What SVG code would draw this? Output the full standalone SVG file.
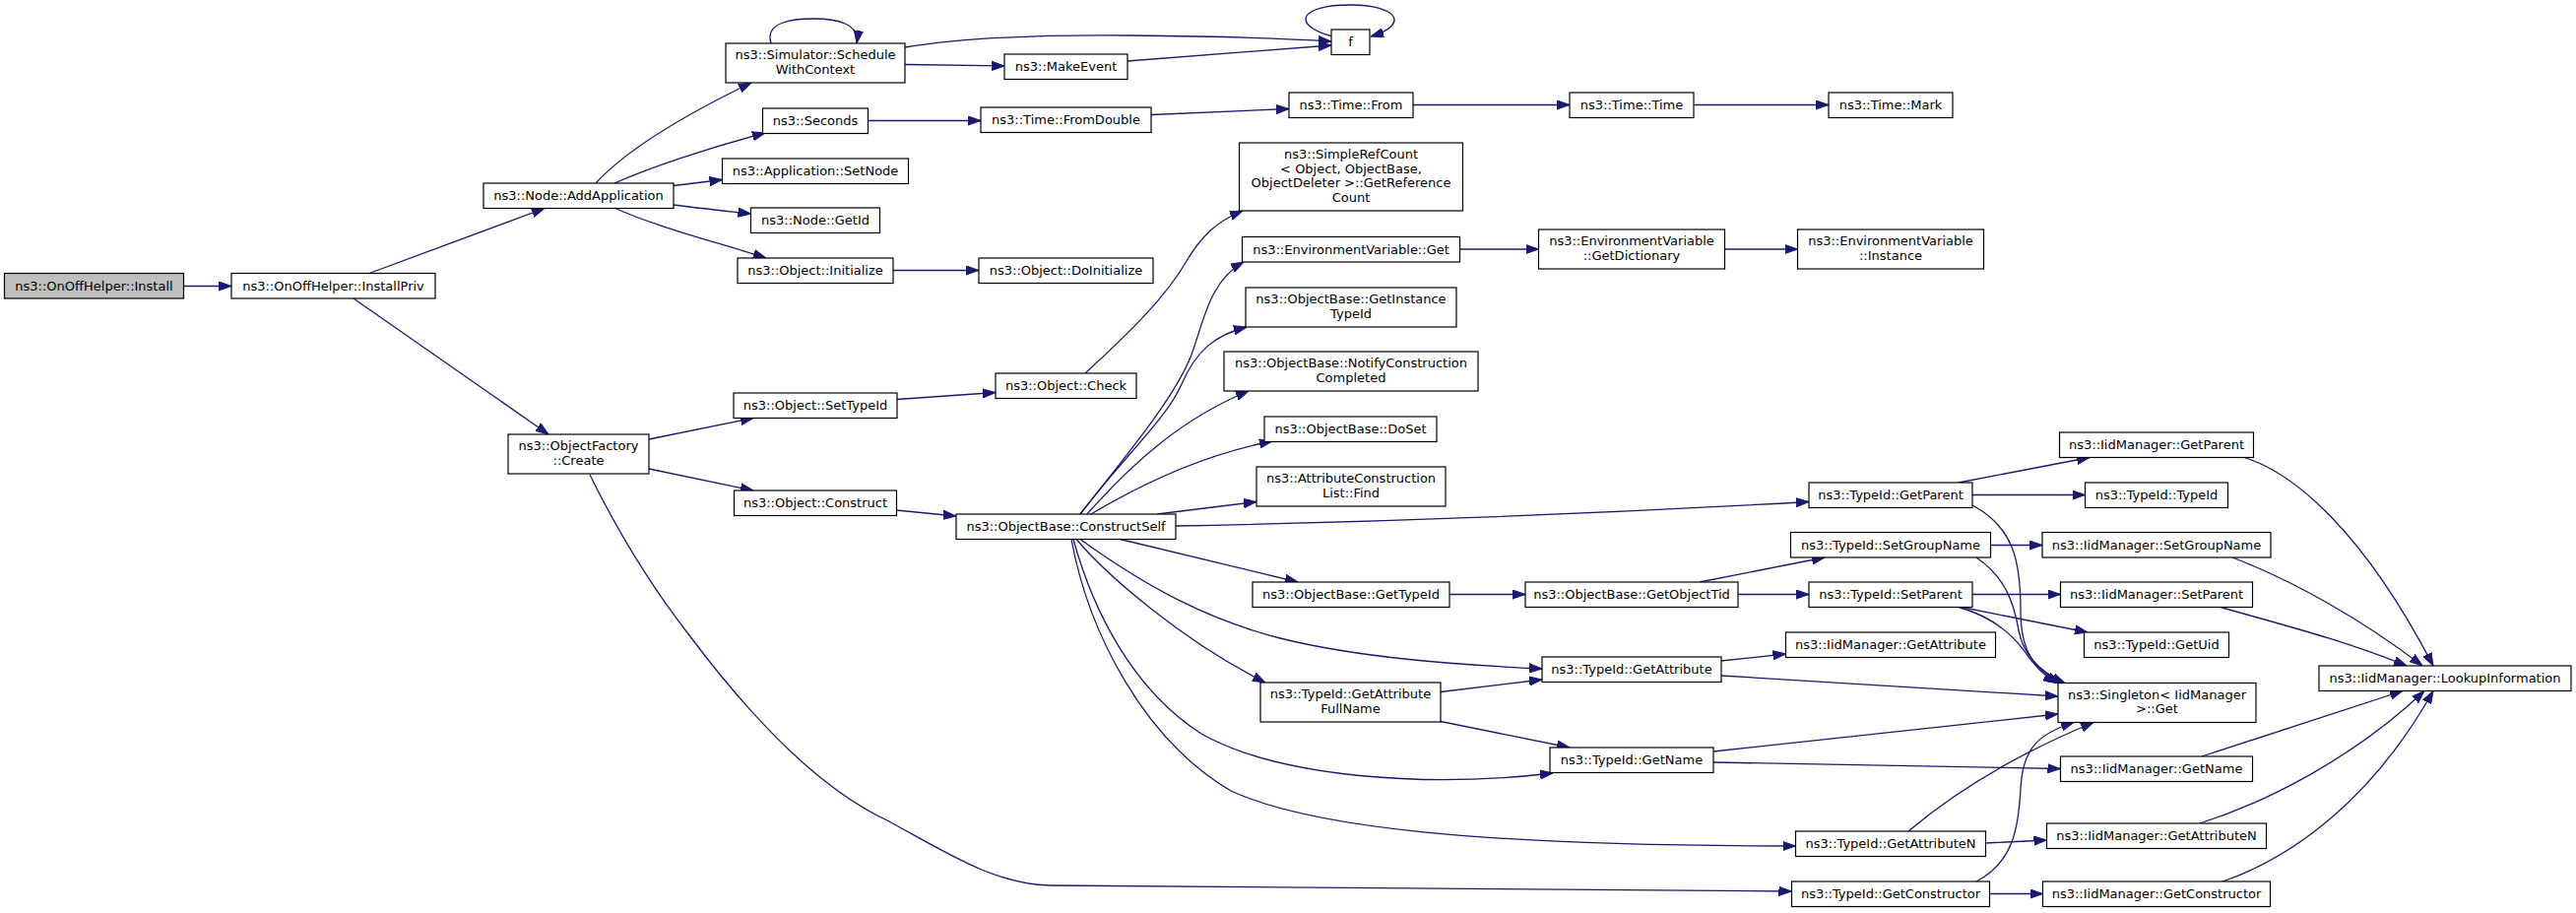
<svg xmlns="http://www.w3.org/2000/svg" width="2616" height="927" viewBox="0 0 2616 927">
<style>
.n rect{fill:#ffffff;stroke:#000000;stroke-width:1.2}
.n.root rect{fill:#bfbfbf}
.n text{font-family:"DejaVu Sans","Noto Sans",sans-serif;font-size:13px;text-anchor:middle;fill:#000000}
#edges path{fill:none;stroke:#191970;stroke-width:1.3;marker-end:url(#arr)}
</style>
<defs>
<marker id="arr" viewBox="0 0 13 10" markerWidth="13" markerHeight="10" refX="13" refY="5" orient="auto" markerUnits="userSpaceOnUse">
<path d="M0,0.4 L13,5 L0,9.6 Z" fill="#191970" stroke="#191970" stroke-width="1"/>
</marker>
</defs>
<rect width="2616" height="927" fill="#ffffff"/>
<g id="edges">
<path d="M186.5,290.5 L235,290.5"/>
<path d="M375,277.5 L553,211.5"/>
<path d="M359,303 L557,441"/>
<path d="M605,186 C640,148 705,112 763,84"/>
<path d="M624,186 C660,170 720,150 777,135"/>
<path d="M684,188.5 L733.5,182.5"/>
<path d="M684,208 C705,211 735,214 762.5,217"/>
<path d="M624,211 C665,230 725,245 778,262"/>
<path d="M783,44 C776,22 806,19 826,19 C850,19 873,24 870,44"/>
<path d="M919,48 C980,38 1060,35 1150,36 C1250,37 1320,40 1352,42"/>
<path d="M919,65.5 L1020,67"/>
<path d="M1145,62 L1352,46"/>
<path d="M1353,37 C1310,25 1320,5 1371,5 C1420,5 1432,25 1392,37"/>
<path d="M881.5,122.5 L996,122.5"/>
<path d="M1169,116.5 L1309,110.5"/>
<path d="M1435,106.5 L1594,106.5"/>
<path d="M1720,106.5 L1857,106.5"/>
<path d="M907,274.5 L994,274.5"/>
<path d="M659,446 L765,424.5"/>
<path d="M659,476 L765,498"/>
<path d="M599,482 C630,545 665,600 700,645 C760,725 830,800 901,833 C960,865 1010,898 1066,899 L1819.5,905"/>
<path d="M911,405.5 L1011,398.5"/>
<path d="M1102,379 C1150,335 1185,300 1205,265 C1220,240 1235,225 1262,214"/>
<path d="M910,518 L971,524"/>
<path d="M1097,522 C1150,455 1195,400 1210,360 C1222,328 1228,285 1263,266"/>
<path d="M1097,522 C1140,465 1185,425 1200,390 C1215,355 1235,340 1266,332"/>
<path d="M1104,522 C1150,470 1200,425 1268,397"/>
<path d="M1108,522 C1170,485 1230,460 1292,448"/>
<path d="M1175,522 L1276,509.5"/>
<path d="M1194,534 C1400,530 1650,520 1837,509.5"/>
<path d="M1137.5,547.5 L1318,591"/>
<path d="M1097,547.5 C1170,600 1230,630 1300,648 C1380,668 1480,675 1566,679"/>
<path d="M1093,547.5 C1125,585 1200,650 1285,693"/>
<path d="M1090,547.5 C1110,620 1150,700 1220,745 C1300,790 1450,800 1577,785"/>
<path d="M1088,547.5 C1105,640 1160,750 1250,803 C1330,840 1500,859 1823.5,859"/>
<path d="M1472,603.5 L1549,603.5"/>
<path d="M1726,591 L1853,566"/>
<path d="M1765,603.5 L1837,603.5"/>
<path d="M1989,490 L2122,464.5"/>
<path d="M2003,502.5 L2117.5,502.5"/>
<path d="M2021.5,553.5 L2074,553.5"/>
<path d="M2003,603.5 L2092.5,603.5"/>
<path d="M1992,616.5 L2120,642"/>
<path d="M2003,513 C2045,535 2052,570 2052,620 C2052,660 2065,680 2092,693.5"/>
<path d="M2007,566 C2035,585 2045,610 2050,640 C2055,665 2070,682 2097,693.5"/>
<path d="M1989,616.5 C2020,625 2040,640 2055,660 C2065,675 2075,686 2088,693.5"/>
<path d="M1748,686 L2090,707"/>
<path d="M1740,763 L2090,725"/>
<path d="M1740,774 L2092.5,780.5"/>
<path d="M1938,844 C1990,800 2050,765 2126,733.5"/>
<path d="M2007,895 C2045,875 2050,840 2052,800 C2054,760 2070,745 2106,733.5"/>
<path d="M2016.5,856 L2078.5,853"/>
<path d="M2020.5,907.5 L2074.5,907.5"/>
<path d="M1748,671 L1813.5,664"/>
<path d="M1463,702.5 L1566,690"/>
<path d="M1463,732.5 L1594,759"/>
<path d="M1482.5,253 L1562.5,253"/>
<path d="M1751.5,253 L1825.5,253"/>
<path d="M2279,464.5 C2330,480 2400,540 2471,676"/>
<path d="M2267,566 C2330,590 2400,630 2460,676"/>
<path d="M2255,616.5 C2320,635 2380,650 2444,676"/>
<path d="M2236,768 L2440,701.5"/>
<path d="M2234,836 C2300,815 2390,770 2462,701.5"/>
<path d="M2257,895 C2330,870 2410,810 2471,701.5"/>
</g>
<g id="install" class="n root"><rect x="4.5" y="277.5" width="182" height="25.5"/><text x="95.5" y="294.5">ns3::OnOffHelper::Install</text></g>
<g id="installpriv" class="n"><rect x="235" y="277.5" width="207" height="25.5"/><text x="338.5" y="294.5">ns3::OnOffHelper::InstallPriv</text></g>
<g id="addapplication" class="n"><rect x="491" y="186" width="193" height="25.5"/><text x="587.5" y="203">ns3::Node::AddApplication</text></g>
<g id="objectfactory_create" class="n"><rect x="516" y="441" width="143" height="40"/><text x="587.5" y="457">ns3::ObjectFactory</text><text x="587.5" y="471.7">::Create</text></g>
<g id="schedulewithcontext" class="n"><rect x="737" y="44" width="182" height="40"/><text x="828" y="60">ns3::Simulator::Schedule</text><text x="828" y="74.7">WithContext</text></g>
<g id="seconds" class="n"><rect x="774.5" y="110" width="107" height="25.5"/><text x="828" y="127">ns3::Seconds</text></g>
<g id="setnode" class="n"><rect x="733.5" y="161" width="189" height="25.5"/><text x="828" y="178">ns3::Application::SetNode</text></g>
<g id="getid" class="n"><rect x="762.5" y="211" width="131" height="25.5"/><text x="828" y="228">ns3::Node::GetId</text></g>
<g id="initialize" class="n"><rect x="749" y="262" width="158" height="25.5"/><text x="828" y="279">ns3::Object::Initialize</text></g>
<g id="settypeid" class="n"><rect x="745" y="399" width="166" height="25.5"/><text x="828" y="416">ns3::Object::SetTypeId</text></g>
<g id="construct" class="n"><rect x="745.5" y="498" width="165" height="25.5"/><text x="828" y="515">ns3::Object::Construct</text></g>
<g id="makeevent" class="n"><rect x="1020" y="55" width="125" height="25.5"/><text x="1082.5" y="72">ns3::MakeEvent</text></g>
<g id="fromdouble" class="n"><rect x="996" y="109" width="173" height="25.5"/><text x="1082.5" y="126">ns3::Time::FromDouble</text></g>
<g id="doinitialize" class="n"><rect x="994" y="262" width="177" height="25.5"/><text x="1082.5" y="279">ns3::Object::DoInitialize</text></g>
<g id="check" class="n"><rect x="1011" y="379" width="143" height="25.5"/><text x="1082.5" y="396">ns3::Object::Check</text></g>
<g id="constructself" class="n"><rect x="971" y="522" width="223" height="25.5"/><text x="1082.5" y="539">ns3::ObjectBase::ConstructSelf</text></g>
<g id="f" class="n"><rect x="1352" y="30" width="39" height="25.5"/><text x="1371.5" y="47">f</text></g>
<g id="time_from" class="n"><rect x="1309" y="94" width="126" height="25.5"/><text x="1372" y="111">ns3::Time::From</text></g>
<g id="simplerefcount" class="n"><rect x="1258.5" y="145" width="227" height="69"/><text x="1372" y="161">ns3::SimpleRefCount</text><text x="1372" y="175.7">&lt; Object, ObjectBase,</text><text x="1372" y="190.4">ObjectDeleter &gt;::GetReference</text><text x="1372" y="205">Count</text></g>
<g id="envvar_get" class="n"><rect x="1261.5" y="240.5" width="221" height="25.5"/><text x="1372" y="257.5">ns3::EnvironmentVariable::Get</text></g>
<g id="getinstancetypeid" class="n"><rect x="1265" y="292" width="214" height="40"/><text x="1372" y="308">ns3::ObjectBase::GetInstance</text><text x="1372" y="322.7">TypeId</text></g>
<g id="notifyconstruction" class="n"><rect x="1243" y="357" width="258" height="40"/><text x="1372" y="373">ns3::ObjectBase::NotifyConstruction</text><text x="1372" y="387.7">Completed</text></g>
<g id="doset" class="n"><rect x="1284" y="423" width="175" height="25.5"/><text x="1371.5" y="440">ns3::ObjectBase::DoSet</text></g>
<g id="attrlist_find" class="n"><rect x="1276" y="474" width="192" height="40"/><text x="1372" y="490">ns3::AttributeConstruction</text><text x="1372" y="504.7">List::Find</text></g>
<g id="objectbase_gettypeid" class="n"><rect x="1272" y="591" width="200" height="25.5"/><text x="1372" y="608">ns3::ObjectBase::GetTypeId</text></g>
<g id="getattributefullname" class="n"><rect x="1280" y="693" width="183" height="40"/><text x="1371.5" y="709">ns3::TypeId::GetAttribute</text><text x="1371.5" y="723.7">FullName</text></g>
<g id="time_time" class="n"><rect x="1594" y="94" width="126" height="25.5"/><text x="1657" y="111">ns3::Time::Time</text></g>
<g id="getdictionary" class="n"><rect x="1562.5" y="233" width="189" height="40"/><text x="1657" y="249">ns3::EnvironmentVariable</text><text x="1657" y="263.7">::GetDictionary</text></g>
<g id="getobjecttid" class="n"><rect x="1549" y="591" width="216" height="25.5"/><text x="1657" y="608">ns3::ObjectBase::GetObjectTid</text></g>
<g id="typeid_getattribute" class="n"><rect x="1566" y="667" width="182" height="25.5"/><text x="1657" y="684">ns3::TypeId::GetAttribute</text></g>
<g id="typeid_getname" class="n"><rect x="1574" y="759" width="166" height="25.5"/><text x="1657" y="776">ns3::TypeId::GetName</text></g>
<g id="time_mark" class="n"><rect x="1857" y="94" width="126" height="25.5"/><text x="1920" y="111">ns3::Time::Mark</text></g>
<g id="envvar_instance" class="n"><rect x="1825.5" y="233" width="189" height="40"/><text x="1920" y="249">ns3::EnvironmentVariable</text><text x="1920" y="263.7">::Instance</text></g>
<g id="typeid_getparent" class="n"><rect x="1837" y="490" width="166" height="25.5"/><text x="1920" y="507">ns3::TypeId::GetParent</text></g>
<g id="typeid_setgroupname" class="n"><rect x="1818.5" y="540.5" width="203" height="25.5"/><text x="1920" y="557.5">ns3::TypeId::SetGroupName</text></g>
<g id="typeid_setparent" class="n"><rect x="1837" y="591" width="166" height="25.5"/><text x="1920" y="608">ns3::TypeId::SetParent</text></g>
<g id="iid_getattribute" class="n"><rect x="1813.5" y="642" width="213" height="25.5"/><text x="1920" y="659">ns3::IidManager::GetAttribute</text></g>
<g id="typeid_getattributen" class="n"><rect x="1823.5" y="844" width="193" height="25.5"/><text x="1920" y="861">ns3::TypeId::GetAttributeN</text></g>
<g id="typeid_getconstructor" class="n"><rect x="1819.5" y="895" width="201" height="25.5"/><text x="1920" y="912">ns3::TypeId::GetConstructor</text></g>
<g id="iid_getparent" class="n"><rect x="2091.5" y="439" width="197" height="25.5"/><text x="2190" y="456">ns3::IidManager::GetParent</text></g>
<g id="typeid_typeid" class="n"><rect x="2117.5" y="490" width="145" height="25.5"/><text x="2190" y="507">ns3::TypeId::TypeId</text></g>
<g id="iid_setgroupname" class="n"><rect x="2074" y="540.5" width="232" height="25.5"/><text x="2190" y="557.5">ns3::IidManager::SetGroupName</text></g>
<g id="iid_setparent" class="n"><rect x="2092.5" y="591" width="195" height="25.5"/><text x="2190" y="608">ns3::IidManager::SetParent</text></g>
<g id="typeid_getuid" class="n"><rect x="2116.5" y="642" width="147" height="25.5"/><text x="2190" y="659">ns3::TypeId::GetUid</text></g>
<g id="singleton_get" class="n"><rect x="2090" y="693.5" width="201" height="40"/><text x="2190.5" y="709.5">ns3::Singleton&lt; IidManager</text><text x="2190.5" y="724.2">&gt;::Get</text></g>
<g id="iid_getname" class="n"><rect x="2092.5" y="768" width="195" height="25.5"/><text x="2190" y="785">ns3::IidManager::GetName</text></g>
<g id="iid_getattributen" class="n"><rect x="2078.5" y="836" width="223" height="25.5"/><text x="2190" y="853">ns3::IidManager::GetAttributeN</text></g>
<g id="iid_getconstructor" class="n"><rect x="2074.5" y="895" width="231" height="25.5"/><text x="2190" y="912">ns3::IidManager::GetConstructor</text></g>
<g id="iid_lookupinformation" class="n"><rect x="2355" y="676" width="256" height="25.5"/><text x="2483" y="693">ns3::IidManager::LookupInformation</text></g>
</svg>
